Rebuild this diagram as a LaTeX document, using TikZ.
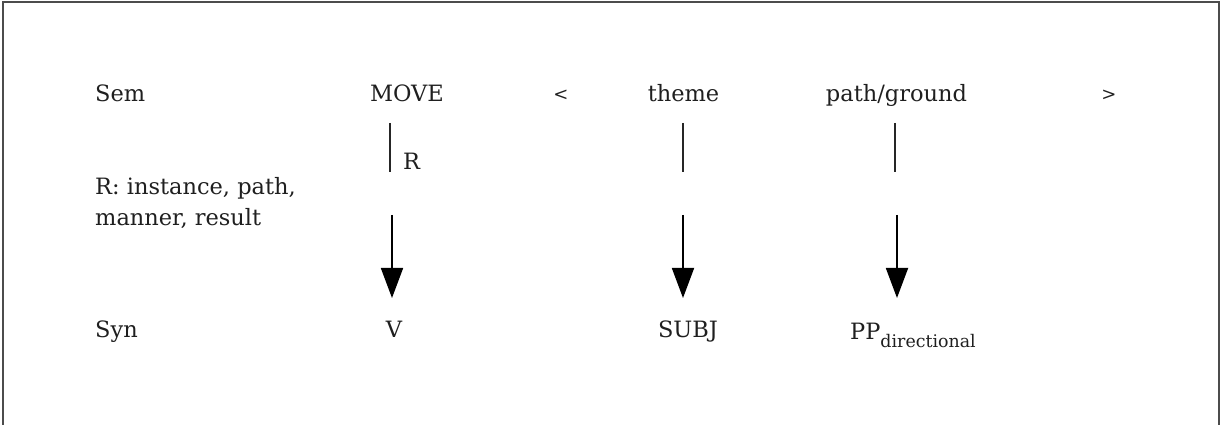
\documentclass[tikz,border=0pt]{standalone}
\usepackage{fontspec}
\setmainfont{DejaVu Serif}
\usetikzlibrary{arrows.meta}
\newcommand{\ppsubfont}{\fontsize{17.4}{20}\selectfont}
\begin{document}
\begin{tikzpicture}[x=1pt,y=1pt,
  txt/.style={inner sep=0pt, font=\fontsize{22.5}{31}\selectfont, text=black!88},
  link/.style={line width=1.6pt, draw=black!85},
  maparrow/.style={line width=1.8pt, draw=black, -{Triangle[width=22pt,length=30pt]}},
  frame/.style={line width=2pt, draw=black!70}
]
\useasboundingbox (0,0) rectangle (1221,425);
% open frame (no bottom edge)
\draw[frame] (3,0) -- (3,423) -- (1219,423) -- (1219,0);

% semantic row
\node[txt, anchor=base west] (sem) at (95,323) {Sem};
\node[txt, anchor=base] (move) at (407,323) {MOVE};
\node[txt, anchor=base] (lt) at (561,324) {\scalebox{0.8}{<}};
\node[txt, anchor=base] (theme) at (683.5,323) {theme};
\node[txt, anchor=base] (pathg) at (896.5,323) {path/ground};
\node[txt, anchor=base] (gt) at (1109,324) {\scalebox{0.8}{>}};

% relation list
\node[txt, anchor=base west] (rlist1) at (95,230) {R: instance, path,};
\node[txt, anchor=base west] (rlist2) at (95,199) {manner, result};

% syntactic row
\node[txt, anchor=base west] (syn) at (95,87) {Syn};
\node[txt, anchor=base] (v) at (394,87) {V};
\node[txt, anchor=base] (subj) at (688,87) {SUBJ};
\node[txt, anchor=base west] (pp) at (850,85) {PP{\ppsubfont\raisebox{-7.5pt}{directional}}};

% linking lines below the semantic row
\coordinate (m1) at (390,302);
\coordinate (m2) at (390,253);
\coordinate (t1) at (683,302);
\coordinate (t2) at (683,253);
\coordinate (p1) at (895,302);
\coordinate (p2) at (895,253);
\draw[link] (m1) -- (m2);
\draw[link] (t1) -- (t2);
\draw[link] (p1) -- (p2);
\node[txt, anchor=base west] (rlab) at (403,255) {R};

% mapping arrows into the syntactic row
\coordinate (ma) at (392,210);
\coordinate (mb) at (392,127);
\coordinate (ta) at (683,210);
\coordinate (tb) at (683,127);
\coordinate (pa) at (897,210);
\coordinate (pb) at (897,127);
\draw[maparrow] (ma) -- (mb);
\draw[maparrow] (ta) -- (tb);
\draw[maparrow] (pa) -- (pb);
\end{tikzpicture}
\end{document}
